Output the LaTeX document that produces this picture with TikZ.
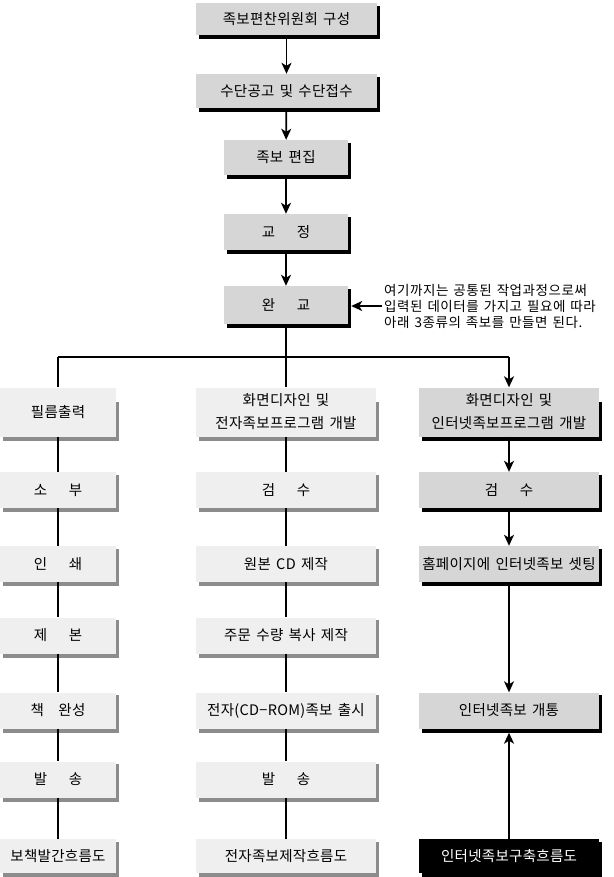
\documentclass[tikz,border=0pt]{standalone}
\usepackage{fontspec}
\newfontfamily\kr[LetterSpace=2,WordSpace=1.5]{Noto Sans CJK KR}
\newfontfamily\krnote[LetterSpace=4,WordSpace=1.4]{Noto Sans CJK KR}
\usetikzlibrary{arrows.meta,backgrounds}
\definecolor{boxdark}{HTML}{D6D6D6}
\definecolor{boxlight}{HTML}{EFEFEF}
\definecolor{shadegray}{HTML}{8C8C8C}
\newcommand\shd[3][3]{\fill[#2] ([shift={(3pt,-4pt)}]#3.south west) rectangle ([shift={(3pt,-#1pt)}]#3.north east);}
\tikzset{
  base/.style={inner sep=0pt, align=center, font=\kr\fontsize{14.5}{23}\selectfont, text=black},
  topbox/.style={base, fill=boxdark},
  lightbox/.style={base, fill=boxlight, minimum height=36pt},
  darkbox/.style={base, fill=boxdark, minimum height=36pt, minimum width=180pt},
  tallbox/.style={minimum height=49pt},
  endbox/.style={minimum height=34pt},
  blackbox/.style={base, fill=black, text=white, minimum width=180pt, minimum height=34pt},
  notetext/.style={inner sep=2pt, align=left, font=\krnote\fontsize{13.5}{16}\selectfont},
  conn/.style={line width=1.7pt, draw=black},
  hline/.style={line width=2.2pt, draw=black},
  arr/.style={conn, -{Stealth[length=11pt,width=10pt,inset=3pt]}}
}
\begin{document}
\begin{tikzpicture}[x=1pt,y=-1pt]
\useasboundingbox (0,0) rectangle (613,877);

% top chain
\node[topbox, minimum width=181pt, minimum height=32pt] (t1) at (286.5,19) {족보편찬위원회 구성};
\node[topbox, minimum width=181pt, minimum height=34pt] (t2) at (286.5,91) {수단공고 및 수단접수};
\node[topbox, minimum width=124pt, minimum height=35pt] (t3) at (286,157.5) {족보 편집};
\node[topbox, minimum width=124pt, minimum height=36pt] (t4) at (286,232) {교\hspace{1.5em}정};
\node[topbox, minimum width=124pt, minimum height=38pt] (t5) at (286,305) {완\hspace{1.5em}교};

\node[notetext, anchor=west] (note) at (382,306) {여기까지는 공통된 작업과정으로써\\입력된 데이터를 가지고 필요에 따라\\아래 3종류의 족보를 만들면 된다.};

% left column
\node[lightbox, tallbox, minimum width=116pt] (l1) at (58,412) {필름출력};
\node[lightbox, minimum width=116pt] (l2) at (58,490) {소\hspace{1.5em}부};
\node[lightbox, minimum width=116pt] (l3) at (58,564) {인\hspace{1.5em}쇄};
\node[lightbox, minimum width=116pt] (l4) at (58,635.5) {제\hspace{1.5em}본};
\node[lightbox, minimum width=116pt] (l5) at (58,710.5) {책\hspace{1em}완성};
\node[lightbox, minimum width=116pt] (l6) at (58,779.5) {발\hspace{1.5em}송};
\node[lightbox, endbox, minimum width=116pt] (l7) at (58,856) {보책발간흐름도};

% middle column
\node[lightbox, tallbox, minimum width=180pt] (m1) at (286,412) {화면디자인 및\\전자족보프로그램 개발};
\node[lightbox, minimum width=180pt] (m2) at (286,490) {검\hspace{1.5em}수};
\node[lightbox, minimum width=180pt] (m3) at (286,564) {원본 CD 제작};
\node[lightbox, minimum width=180pt] (m4) at (286,635.5) {주문 수량 복사 제작};
\node[lightbox, minimum width=180pt] (m5) at (286,710.5) {전자(CD−ROM)족보 출시};
\node[lightbox, minimum width=180pt] (m6) at (286,779.5) {발\hspace{1.5em}송};
\node[lightbox, endbox, minimum width=180pt] (m7) at (286,856) {전자족보제작흐름도};

% right column
\node[darkbox, tallbox] (r1) at (509,412) {화면디자인 및\\인터넷족보프로그램 개발};
\node[darkbox] (r2) at (509,490) {검\hspace{1.5em}수};
\node[darkbox] (r3) at (509,564) {홈페이지에 인터넷족보 셋팅};
\node[darkbox] (r4) at (509,710.5) {인터넷족보 개통};
\node[blackbox] (r5) at (509,856) {인터넷족보구축흐름도};

% background and shadows
\begin{scope}[on background layer]
  \fill[white] (0,0) rectangle (613,877);
  \shd{black}{t1}\shd{black}{t2}\shd{black}{t3}\shd{black}{t4}\shd{black}{t5}
  \shd[15]{shadegray}{l1}\shd{shadegray}{l2}\shd{shadegray}{l3}\shd{shadegray}{l4}\shd{shadegray}{l5}\shd{shadegray}{l6}\shd{shadegray}{l7}
  \shd[15]{shadegray}{m1}\shd{shadegray}{m2}\shd{shadegray}{m3}\shd{shadegray}{m4}\shd{shadegray}{m5}\shd{shadegray}{m6}\shd{shadegray}{m7}
  \shd[15]{black}{r1}\shd{black}{r2}\shd{black}{r3}\shd{black}{r4}\shd{black}{r5}
\end{scope}

% connectors top
\draw[arr] (t1) -- (t2);
\draw[arr] (t2) -- (t3);
\draw[arr] (t3) -- (t4);
\draw[arr] (t4) -- (t5);
\draw[arr] (note.west) -- ([xshift=3pt]t5.east |- note.west);

\coordinate (hub) at (286,357);
\draw[conn] (t5) -- (m1);
\draw[hline] (l1 |- hub) -- (r1 |- hub);
\draw[conn] (l1 |- hub) -- (l1);
\draw[arr] (r1 |- hub) -- (r1);

\draw[conn] (l1) -- (l2) -- (l3) -- (l4) -- (l5) -- (l6) -- (l7);
\draw[conn] (m1) -- (m2) -- (m3) -- (m4) -- (m5) -- (m6) -- (m7);

\draw[arr] (r1) -- (r2);
\draw[arr] (r2) -- (r3);
\draw[arr] (r3) -- (r4);
\draw[arr, shorten >=4pt] (r5) -- (r4);
\end{tikzpicture}
\end{document}
